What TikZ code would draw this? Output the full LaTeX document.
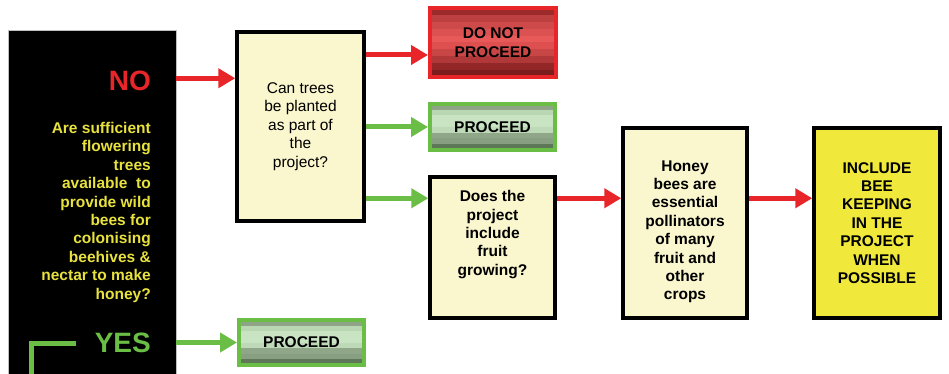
\documentclass[tikz,border=0pt]{standalone}
\usepackage{fontspec}
\setmainfont{Liberation Sans}
\usetikzlibrary{positioning,calc,arrows.meta}
\definecolor{nored}{RGB}{232,38,42}
\definecolor{yesgreen}{RGB}{106,189,69}
\definecolor{asktext}{RGB}{232,226,62}
\definecolor{pale}{RGB}{250,246,206}
\definecolor{bright}{RGB}{240,233,60}
\definecolor{rA}{HTML}{9C2A2A}
\definecolor{rB}{HTML}{BC4040}
\definecolor{rC}{HTML}{CE4A4A}
\definecolor{rD}{HTML}{DC5252}
\definecolor{rE}{HTML}{E85A5A}
\definecolor{rF}{HTML}{DE5050}
\definecolor{rG}{HTML}{C84646}
\definecolor{rH}{HTML}{B03838}
\definecolor{rI}{HTML}{932626}
\definecolor{rJ}{HTML}{7C1C1C}
\definecolor{gA}{HTML}{8FA486}
\definecolor{gB}{HTML}{BAD7B3}
\definecolor{gC}{HTML}{C8E4C3}
\definecolor{gD}{HTML}{BDD9B7}
\definecolor{gE}{HTML}{8FA788}
\definecolor{gF}{HTML}{889F81}
\definecolor{gG}{HTML}{5F7759}
\tikzset{bands/.style 2 args={path picture={
  \foreach \c [count=\i] in {#2}
    \fill[\c] ($(path picture bounding box.north west)!{(\i-1)/#1}!(path picture bounding box.south west)$)
      rectangle ($(path picture bounding box.north east)!{\i/#1}!(path picture bounding box.south east)$);
}}}
\tikzstyle{body} = [font=\fontsize{15.5}{18.4}\selectfont\bfseries, align=center, inner sep=0pt]
\tikzstyle{qbox} = [draw, line width=3.5pt, fill=pale, body]
\tikzstyle{stopbox} = [draw=nored, line width=4pt, body, minimum width=126pt, minimum height=69pt,
  bands={10}{rA,rB,rC,rD,rE,rF,rG,rH,rI,rJ}]
\tikzstyle{gobox} = [draw=yesgreen, line width=4pt, body, minimum width=125pt, minimum height=45pt,
  bands={8}{gA,gB,gC,gC,gD,gE,gF,gG}]
\tikzstyle{flow} = [-{Triangle[length=17pt,width=19pt]}, line width=5pt]
\tikzstyle{noflow} = [flow, nored]
\tikzstyle{yesflow} = [flow, yesgreen]

\begin{document}
\begin{tikzpicture}[x=1pt, y=-1pt]
  \useasboundingbox (0,0) rectangle (949,374);

  % left question
  \node[fill=black, draw=gray!50, line width=0.6pt, minimum width=168pt, minimum height=352pt, inner sep=0pt] (question) at (92,206) {};
  \node[body, font=\fontsize{28}{28}\selectfont\bfseries, text=nored, anchor=east] (no) at (151,81) {NO};
  \node[body, align=right, text=asktext, anchor=north east] (ask) at (151,122)
    {Are sufficient\\flowering\\trees\\available\ \ to\\provide wild\\bees for\\colonising\\beehives \&\\nectar to make\\honey?};
  \node[body, font=\fontsize{28}{28}\selectfont\bfseries, text=yesgreen, anchor=east] (yes) at (151,342.5) {YES};
  \draw[yesgreen, line width=5pt] (31,380) -- (31,343) -- (76,343);

  % boxes
  \node[qbox, font=\fontsize{15.5}{18.4}\selectfont, minimum width=127pt, minimum height=189pt] (trees) at (300.5,126.5)
    {Can trees\\be planted\\as part of\\the\\project?};
  \node[stopbox] (stop) at (493,42.5) {DO NOT\\PROCEED};
  \node[gobox, minimum height=46pt] (proc) at (492.5,127) {PROCEED};
  \node[gobox] (procb) at (301.5,342.5) {PROCEED};
  \node[qbox, minimum width=125pt, minimum height=141pt] (fruit) at (492.5,247.5) {};
  \node[body, below=15pt of fruit.north] (fruittxt) {Does the\\project\\include\\fruit\\growing?};
  \node[qbox, minimum width=124pt, minimum height=190pt] (honey) at (685,223) {};
  \node[body, below=34pt of honey.north] (honeytxt) {Honey\\bees are\\essential\\pollinators\\of many\\fruit and\\other\\crops};
  \node[qbox, fill=bright, minimum width=126pt, minimum height=190pt] (incl) at (877,223)
    {INCLUDE\\BEE\\KEEPING\\IN THE\\PROJECT\\WHEN\\POSSIBLE};

  % arrows
  \coordinate (noin) at ([yshift=-48pt]trees.north west);
  \coordinate (stopin) at ([yshift=-12.5pt]stop.west);
  \coordinate (row) at ([yshift=-23pt]fruit.north west);
  \draw[noflow] (question.east |- noin) -- (noin);
  \draw[yesflow] (question.east |- procb.west) -- (procb.west);
  \draw[noflow] (trees.east |- stopin) -- (stopin);
  \draw[yesflow] (trees.east |- proc.west) -- (proc.west);
  \draw[yesflow] (trees.east |- row) -- (row);
  \draw[noflow] (fruit.east |- row) -- (honey.west |- row);
  \draw[noflow] (honey.east |- row) -- (incl.west |- row);
\end{tikzpicture}
\end{document}
